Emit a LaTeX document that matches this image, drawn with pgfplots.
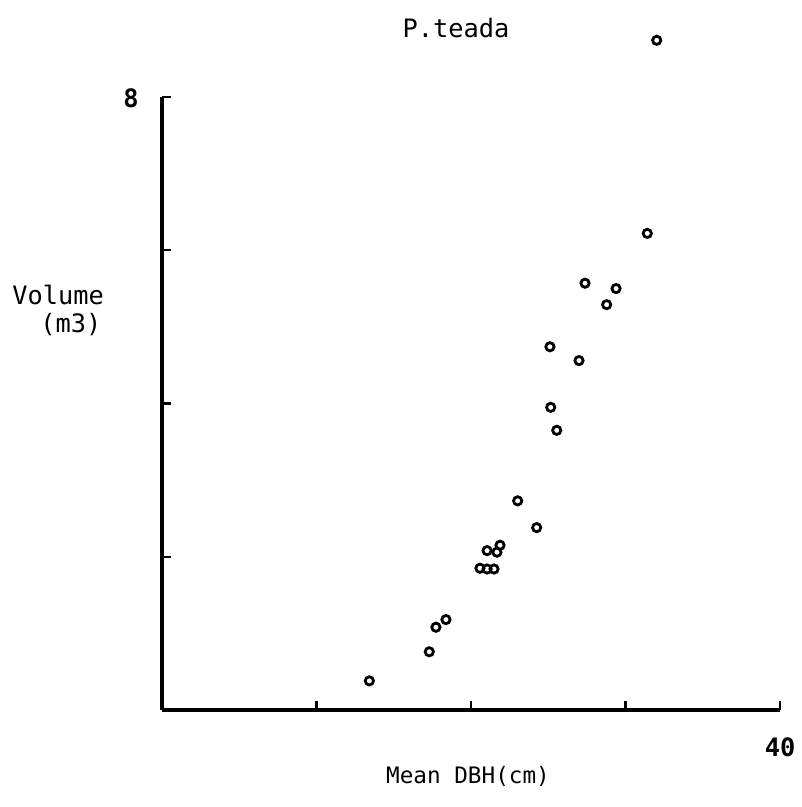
\documentclass[border=0pt]{standalone}
\usepackage{fontspec}
\usepackage{pgfplots}
\pgfplotsset{compat=1.18}
\newfontfamily\plotfont{DejaVu Sans Mono}

\begin{document}
\begin{tikzpicture}
\useasboundingbox (0,0) rectangle (601.5pt,605.25pt);
\begin{axis}[
  at={(121.5pt,72.75pt)}, anchor=south west,
  scale only axis, width=463.5pt, height=459.75pt,
  xmin=0, xmax=40, ymin=0, ymax=8,
  axis lines*=left,
  axis line style={line width=2.4pt},
  xtick={10,20,30,40}, ytick={2,4,6,8},
  xticklabels={}, yticklabels={},
  tick align=inside, major tick length=6.5pt,
  tick style={line width=1.8pt, black},
  clip=false,
]
\addplot[only marks, mark=o, mark size=3.1pt, mark options={line width=2.1pt, black}]
coordinates {
 (32.02,8.74) (31.41,6.22) (27.38,5.57) (29.39,5.50) (28.78,5.29)
 (25.11,4.74) (26.99,4.56) (25.16,3.95) (25.55,3.65) (23.02,2.73)
 (24.25,2.38) (21.88,2.15) (21.68,2.06) (21.04,2.08) (21.49,1.84)
 (21.04,1.84) (20.58,1.85) (18.38,1.18) (17.73,1.08) (17.30,0.76)
 (13.42,0.38)
};
\end{axis}
\begin{scope}[font=\plotfont\fontsize{19}{22}\selectfont]
\node[anchor=base, inner sep=0] at (342pt,576.75pt) {P.teada};
\node[anchor=base west, inner sep=0] at (9pt,376.5pt) {Volume};
\node[anchor=base west, inner sep=0] at (30pt,356pt) {(m3)};
\node[anchor=base, inner sep=0, font=\plotfont\bfseries\fontsize{19}{22}\selectfont] at (98.25pt,524.25pt) {8};
\node[anchor=base, inner sep=0, font=\plotfont\bfseries\fontsize{19}{22}\selectfont] at (585pt,37.5pt) {40};
\node[anchor=base, inner sep=0, font=\plotfont\fontsize{17}{20}\selectfont] at (351pt,17.25pt) {Mean DBH(cm)};
\end{scope}
\end{tikzpicture}
\end{document}
